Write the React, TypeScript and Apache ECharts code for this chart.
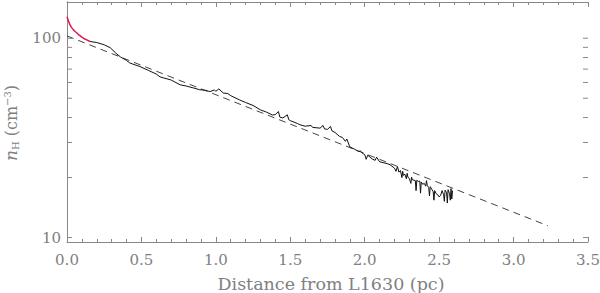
import React, { useEffect, useRef } from "react";
import * as echarts from "echarts";

// Red (inner) segment
const redX = [0.0, 0.01, 0.02, 0.03, 0.043, 0.055, 0.065, 0.08, 0.1, 0.12, 0.14, 0.155];
const redY = [128.2, 121.9, 116.6, 113.4, 110.2, 108.1, 106.5, 103.9, 101.2, 99.1, 97.5, 96.3];

// Black (observed) profile
const blackX = [
  0.155, 0.2, 0.25, 0.29, 0.33, 0.36, 0.4, 0.42, 0.45, 0.49, 0.55, 0.6, 0.625, 0.65, 0.7, 0.76, 0.8,
  0.85, 0.89, 0.93, 0.96, 0.99, 1.0, 1.02, 1.05, 1.08, 1.1, 1.16, 1.2, 1.25, 1.3, 1.34, 1.38, 1.4,
  1.42, 1.43, 1.45, 1.48, 1.49, 1.5, 1.55, 1.565, 1.6, 1.64, 1.65, 1.7, 1.72, 1.73, 1.75, 1.77, 1.78,
  1.8, 1.83, 1.85, 1.87, 1.88, 1.9, 1.93, 1.96, 1.97, 1.99, 2.0, 2.01, 2.02, 2.05, 2.07, 2.08, 2.1,
  2.13, 2.15, 2.17, 2.2, 2.21, 2.22, 2.23, 2.24, 2.25, 2.255, 2.26, 2.27, 2.28, 2.285, 2.29, 2.3,
  2.31, 2.315, 2.32, 2.33, 2.34, 2.345, 2.35, 2.36, 2.37, 2.375, 2.38, 2.39, 2.4, 2.41, 2.415, 2.42,
  2.43, 2.435, 2.44, 2.45, 2.46, 2.465, 2.47, 2.48, 2.49, 2.5, 2.51, 2.52, 2.53, 2.535, 2.54, 2.55,
  2.555, 2.56, 2.57, 2.575, 2.58, 2.585, 2.59,
];
const blackY = [
  96.3, 95.2, 92.7, 89.7, 83.9, 80.5, 77.4, 75.3, 73.8, 72.1, 68.8, 66.1, 64.0, 63.2, 61.7, 58.4, 57.6,
  56.3, 55.2, 54.8, 54.0, 55.0, 54.2, 55.7, 53.1, 52.8, 51.5, 49.0, 47.6, 46.0, 43.7, 42.6, 41.2, 41.4,
  42.9, 40.2, 39.8, 41.3, 39.0, 38.6, 37.3, 36.8, 36.2, 36.5, 35.7, 35.4, 36.5, 35.1, 34.9, 36.1, 34.3,
  33.7, 32.2, 31.8, 30.4, 31.2, 28.5, 27.8, 27.0, 27.2, 26.3, 26.1, 24.7, 25.9, 24.8, 24.4, 25.3, 24.0,
  23.7, 23.5, 23.2, 22.3, 21.5, 22.7, 21.3, 21.7, 20.0, 21.5, 20.5, 20.8, 19.7, 21.0, 20.1, 19.8,
  18.7, 20.1, 19.5, 19.4, 19.3, 17.2, 19.4, 19.1, 19.2, 16.7, 19.0, 18.5, 18.7, 18.1, 19.3, 18.3,
  17.8, 16.2, 18.0, 17.5, 17.0, 15.4, 17.2, 16.6, 16.4, 16.0, 16.3, 17.2, 16.4, 15.2, 17.3, 16.8,
  14.9, 17.4, 16.6, 15.4, 17.6, 15.6, 17.2,
];

// Exponential fit (straight on log axis): endpoints
const fitX = [0.0, 3.23];
const fitY = [102.7, 11.46];

// Axis ranges / ticks
const xTicks = [0, 0.5, 1.0, 1.5, 2.0, 2.5, 3.0, 3.5];
const yRange = [9.5, 152];
const yLabels = [10, 100];
const yMinorTicks = [20, 30, 40, 50, 60, 70, 80, 90];

const FONT = "DejaVu Serif";
const AXIS_COLOR = "#888";
const LABEL_COLOR = "#808080";

export default function App() {
  const ref = useRef<HTMLDivElement>(null);
  useEffect(() => {
    if (!ref.current) return;
    const chart = echarts.init(ref.current, undefined, { renderer: "svg" });
    const zip = (xs: number[], ys: number[]) => xs.map((x, i) => [x, ys[i]]);
    const xMin = xTicks[0];
    const xMax = xTicks[xTicks.length - 1];
    const xAxisCommon = {
      type: "value" as const,
      min: xMin,
      max: xMax,
      interval: 0.5,
      axisLine: { show: true, lineStyle: { color: AXIS_COLOR, width: 1 } },
      axisTick: { show: true, inside: true, length: 5, lineStyle: { color: AXIS_COLOR } },
      minorTick: { show: true, splitNumber: 5, length: 3, lineStyle: { color: AXIS_COLOR } },
      axisLabel: { show: false },
      splitLine: { show: false },
      minorSplitLine: { show: false },
    };
    const yAxisCommon = {
      type: "log" as const,
      logBase: 10,
      min: yRange[0],
      max: yRange[1],
      axisLine: { show: true, lineStyle: { color: AXIS_COLOR, width: 1 } },
      axisTick: { show: false },
      axisLabel: { show: false },
      splitLine: { show: false },
    };
    chart.setOption({
      animation: false,
      backgroundColor: "#fff",
      grid: {
        left: 67,
        right: 12,
        top: 2,
        bottom: 51,
        containLabel: false,
        outerBoundsMode: "none",
      },
      xAxis: [
        { ...xAxisCommon, position: "bottom" },
        { ...xAxisCommon, position: "top" },
      ],
      yAxis: [
        { ...yAxisCommon, position: "left" },
        { ...yAxisCommon, position: "right" },
      ],
      graphic: [
        {
          type: "text",
          x: 331,
          y: 284,
          style: {
            text: "Distance from L1630 (pc)",
            fill: LABEL_COLOR,
            font: `17.5px "${FONT}"`,
            align: "center",
            verticalAlign: "middle",
          },
        },
        {
          type: "text",
          x: 11,
          y: 123,
          rotation: Math.PI / 2,
          style: {
            text: "{n|n}{sub|H}{t| (cm}{sup|−3}{t|)}",
            align: "center",
            verticalAlign: "middle",
            fill: LABEL_COLOR,
            rich: {
              n: { fontFamily: FONT, fontSize: 17, fontStyle: "italic", fill: LABEL_COLOR, lineHeight: 18, verticalAlign: "middle" },
              t: { fontFamily: FONT, fontSize: 16, fill: LABEL_COLOR, lineHeight: 18, verticalAlign: "middle" },
              sub: { fontFamily: FONT, fontSize: 10, fill: LABEL_COLOR, lineHeight: 18, verticalAlign: "bottom" },
              sup: { fontFamily: FONT, fontSize: 10, fill: LABEL_COLOR, lineHeight: 18, verticalAlign: "top" },
            },
          },
        },
      ],
      series: [
        {
          type: "line",
          data: zip(fitX, fitY),
          showSymbol: false,
          symbol: "none",
          lineStyle: { color: "#444", width: 1, type: [7, 5] },
          z: 2,
        },
        {
          type: "line",
          data: zip(blackX, blackY),
          showSymbol: false,
          symbol: "none",
          lineStyle: { color: "#111", width: 1 },
          z: 3,
        },
        {
          type: "line",
          data: zip(redX, redY),
          showSymbol: false,
          symbol: "none",
          lineStyle: { color: "#e0184a", width: 1.5 },
          z: 4,
        },
        {
          // y-axis ticks (major with labels, minor without) on both sides of the log axis
          type: "custom",
          data: [...yLabels.map((v) => [0, v, 1]), ...yMinorTicks.map((v) => [0, v, 0])],
          clip: false,
          silent: true,
          renderItem: (params: any, api: any) => {
            const v = api.value(1);
            const major = api.value(2) === 1;
            const l = api.coord([xMin, v]);
            const r = api.coord([xMax, v]);
            const len = 5;
            const style = { stroke: AXIS_COLOR, lineWidth: 1 };
            const children: any[] = [
              { type: "line", shape: { x1: l[0], y1: l[1], x2: l[0] + len, y2: l[1] }, style },
              { type: "line", shape: { x1: r[0], y1: r[1], x2: r[0] - len, y2: r[1] }, style },
            ];
            if (major) {
              children.push({
                type: "text",
                x: l[0] - 6,
                y: l[1],
                style: {
                  text: String(v),
                  fill: LABEL_COLOR,
                  font: `15px "${FONT}"`,
                  align: "right",
                  verticalAlign: "middle",
                },
              });
            }
            return { type: "group", children };
          },
          z: 1,
        },
        {
          // x-axis tick labels
          type: "custom",
          data: xTicks.map((v) => [v, yRange[0]]),
          clip: false,
          silent: true,
          renderItem: (params: any, api: any) => {
            const v = api.value(0);
            const p = api.coord([v, yRange[0]]);
            return {
              type: "text",
              x: p[0],
              y: p[1] + 18,
              style: {
                text: v.toFixed(1),
                fill: LABEL_COLOR,
                font: `15px "${FONT}"`,
                align: "center",
                verticalAlign: "middle",
              },
            };
          },
          z: 1,
        },
      ],
    });
    return () => chart.dispose();
  }, []);
  return (
    <div
      ref={ref}
      style={{ position: "absolute", left: 0, top: 0, width: 600, height: 293, overflow: "hidden" }}
    />
  );
}
